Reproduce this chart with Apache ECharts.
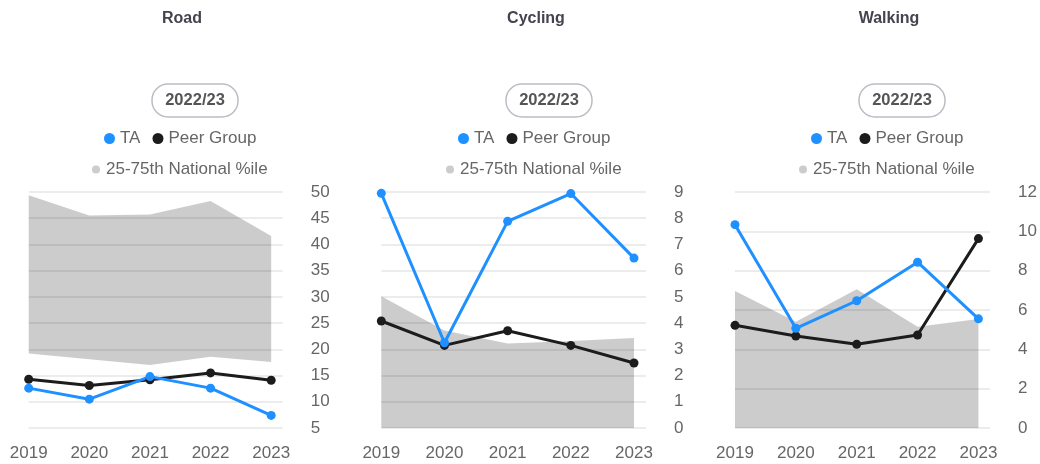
<!DOCTYPE html>
<html>
<head>
<meta charset="utf-8">
<script src="https://cdn.jsdelivr.net/npm/echarts@6/dist/echarts.min.js"></script>
<style>
  html, body { margin: 0; padding: 0; background: #fff; }
  #chart { width: 1040px; height: 464px; }
</style>
</head>
<body>
<div id="chart"></div>
<script>
// 数据
const years = [2019, 2020, 2021, 2022, 2023];
const panelNames = ['Road', 'Cycling', 'Walking'];
const periodLabel = '2022/23';

const roadTA = [12.6, 10.5, 14.8, 12.6, 7.4];
const roadPeer = [14.3, 13.1, 14.2, 15.5, 14.1];
const roadP25 = [19.2, 18.1, 17.0, 18.6, 17.6];
const roadP75 = [49.4, 45.5, 45.7, 48.3, 41.6];

const cyclingTA = [8.95, 3.25, 7.88, 8.94, 6.48];
const cyclingPeer = [4.08, 3.15, 3.71, 3.15, 2.48];
const cyclingP25 = [0, 0, 0, 0, 0];
const cyclingP75 = [5.02, 3.72, 3.22, 3.32, 3.43];

const walkingTA = [10.34, 5.07, 6.47, 8.43, 5.55];
const walkingPeer = [5.22, 4.68, 4.26, 4.73, 9.63];
const walkingP25 = [0, 0, 0, 0, 0];
const walkingP75 = [6.96, 5.4, 7.05, 5.15, 5.54];

const yMin = [5, 0, 0];
const yMax = [50, 9, 12];
const yStep = [5, 1, 2];

const FONT = "'Liberation Sans', Arial, sans-serif";
const BLUE = '#1e90ff';
const BLACK = '#1c1c1c';
const BAND = '#cccccc';

const panels = [
  { ta: roadTA, peer: roadPeer, low: roadP25, high: roadP75 },
  { ta: cyclingTA, peer: cyclingPeer, low: cyclingP25, high: cyclingP75 },
  { ta: walkingTA, peer: walkingPeer, low: walkingP25, high: walkingP75 }
];

// 布局
const grids = [
  { left: 28.7, right: 757.3, top: 192, bottom: 36 },
  { left: 381.3, right: 394, top: 192, bottom: 36 },
  { left: 735, right: 50, top: 192, bottom: 36 }
];
const centers = [182, 536, 889];

// value first, year second -> stacking happens on the y value
const pairs = (vals) => years.map((y, i) => [vals[i], y]);
const enc = { x: 1, y: 0 };

const titles = [];
const legends = [];
const xAxes = [];
const yAxes = [];
const series = [];

panels.forEach((p, k) => {
  titles.push({
    text: panelNames[k],
    left: centers[k], top: 11, textAlign: 'center',
    padding: 0,
    textStyle: { fontFamily: FONT, fontSize: 16, fontWeight: 'bold', color: '#44434f' }
  });
  titles.push({
    text: periodLabel,
    left: centers[k], top: 84, textAlign: 'center',
    padding: [8, 13],
    borderColor: '#bcbcc4', borderWidth: 1.5, borderRadius: 16,
    textStyle: { fontFamily: FONT, fontSize: 16.5, fontWeight: 'bold', color: '#555' }
  });
  legends.push({
    data: ['TA', 'Peer Group'],
    left: centers[k] - 78, top: 130, padding: 0,
    icon: 'circle', itemWidth: 11, itemHeight: 11, itemGap: 12,
    selectedMode: false,
    textStyle: { fontFamily: FONT, fontSize: 17, color: '#666' }
  });
  legends.push({
    data: ['25-75th National %ile'],
    left: centers[k] - 90, top: 161, padding: 0,
    icon: 'circle', itemWidth: 10, itemHeight: 8,
    selectedMode: false,
    textStyle: { fontFamily: FONT, fontSize: 17, color: '#666' }
  });
  xAxes.push({
    type: 'value', gridIndex: k,
    min: 2019, max: 2023.19, interval: 1,
    axisLine: { show: false }, axisTick: { show: false },
    splitLine: { show: false },
    axisLabel: {
      margin: 17, fontFamily: FONT, fontSize: 17, color: '#666',
      formatter: (v) => (Number.isInteger(v) ? String(v) : '')
    }
  });
  yAxes.push({
    type: 'value', gridIndex: k, position: 'right',
    min: yMin[k], max: yMax[k], interval: yStep[k],
    axisLine: { show: false }, axisTick: { show: false },
    splitLine: { lineStyle: { color: '#e6e6e6', width: 1.5 } },
    axisLabel: { margin: 28, fontFamily: FONT, fontSize: 17, color: '#666' }
  });

  const stackId = 'band' + k;
  series.push({
    type: 'line', name: 'low' + k, xAxisIndex: k, yAxisIndex: k,
    stack: stackId, data: pairs(p.low), encode: enc,
    showSymbol: false, lineStyle: { opacity: 0 }, silent: true
  });
  series.push({
    type: 'line', name: '25-75th National %ile', xAxisIndex: k, yAxisIndex: k,
    stack: stackId, data: pairs(p.high.map((v, i) => v - p.low[i])), encode: enc,
    showSymbol: false, lineStyle: { opacity: 0 },
    itemStyle: { color: BAND },
    areaStyle: { color: 'rgba(0,0,0,0.2)', opacity: 1 }, silent: true
  });
  series.push({
    type: 'line', name: 'Peer Group', xAxisIndex: k, yAxisIndex: k,
    data: pairs(p.peer), encode: enc, symbol: 'circle', symbolSize: 9,
    itemStyle: { color: BLACK }, lineStyle: { color: BLACK, width: 3 }
  });
  series.push({
    type: 'line', name: 'TA', xAxisIndex: k, yAxisIndex: k,
    data: pairs(p.ta), encode: enc, symbol: 'circle', symbolSize: 9,
    itemStyle: { color: BLUE }, lineStyle: { color: BLUE, width: 3 }
  });
});

const myChart = echarts.init(document.getElementById('chart'));
myChart.setOption({
  animation: false,
  backgroundColor: '#fff',
  title: titles,
  legend: legends,
  grid: grids,
  xAxis: xAxes,
  yAxis: yAxes,
  series: series
});
</script>
</body>
</html>
